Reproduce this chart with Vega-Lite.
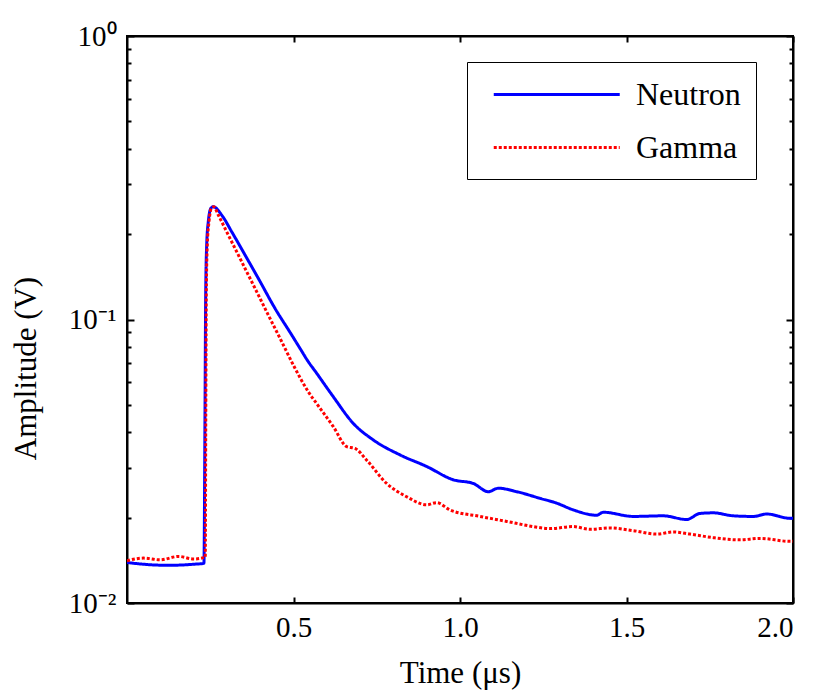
{
  "$schema": "https://vega.github.io/schema/vega-lite/v6.json",
  "width": 666,
  "height": 567,
  "autosize": {"type": "none"},
  "padding": {"left": 127, "top": 36, "right": 23, "bottom": 96},
  "background": "white",
  "config": {
    "view": {"stroke": "black", "strokeWidth": 2},
    "font": "Liberation Serif",
    "axis": {"grid": false, "domainColor": "black", "domainWidth": 2, "tickColor": "black", "tickWidth": 2, "labelColor": "black", "titleColor": "black", "labelFont": "Liberation Serif", "titleFont": "Liberation Serif", "labelFontSize": 29, "titleFontSize": 31, "titleFontWeight": "normal"},
    "legend": {"labelFont": "Liberation Serif"}
  },
  "data": {"values": [
    {"t": 0, "v": 0.0139, "s": "Neutron"},
    {"t": 0.05, "v": 0.0137, "s": "Neutron"},
    {"t": 0.1, "v": 0.0136, "s": "Neutron"},
    {"t": 0.15, "v": 0.0136, "s": "Neutron"},
    {"t": 0.2, "v": 0.0137, "s": "Neutron"},
    {"t": 0.231, "v": 0.0138, "s": "Neutron"},
    {"t": 0.2342, "v": 0.046, "s": "Neutron"},
    {"t": 0.2363, "v": 0.1221, "s": "Neutron"},
    {"t": 0.2393, "v": 0.1832, "s": "Neutron"},
    {"t": 0.2441, "v": 0.2213, "s": "Neutron"},
    {"t": 0.2523, "v": 0.2473, "s": "Neutron"},
    {"t": 0.2592, "v": 0.25, "s": "Neutron"},
    {"t": 0.2844, "v": 0.2336, "s": "Neutron"},
    {"t": 0.3144, "v": 0.204, "s": "Neutron"},
    {"t": 0.3544, "v": 0.1689, "s": "Neutron"},
    {"t": 0.3943, "v": 0.1397, "s": "Neutron"},
    {"t": 0.4444, "v": 0.1095, "s": "Neutron"},
    {"t": 0.4946, "v": 0.0882, "s": "Neutron"},
    {"t": 0.5195, "v": 0.0791, "s": "Neutron"},
    {"t": 0.5444, "v": 0.071, "s": "Neutron"},
    {"t": 0.5697, "v": 0.0646, "s": "Neutron"},
    {"t": 0.5946, "v": 0.0587, "s": "Neutron"},
    {"t": 0.6195, "v": 0.0534, "s": "Neutron"},
    {"t": 0.6796, "v": 0.043, "s": "Neutron"},
    {"t": 0.7396, "v": 0.0376, "s": "Neutron"},
    {"t": 0.8198, "v": 0.0333, "s": "Neutron"},
    {"t": 0.9, "v": 0.0303, "s": "Neutron"},
    {"t": 0.9799, "v": 0.0272, "s": "Neutron"},
    {"t": 1.0399, "v": 0.0264, "s": "Neutron"},
    {"t": 1.085, "v": 0.0247, "s": "Neutron"},
    {"t": 1.115, "v": 0.0254, "s": "Neutron"},
    {"t": 1.1703, "v": 0.0247, "s": "Neutron"},
    {"t": 1.2402, "v": 0.0234, "s": "Neutron"},
    {"t": 1.2904, "v": 0.0225, "s": "Neutron"},
    {"t": 1.3402, "v": 0.0213, "s": "Neutron"},
    {"t": 1.4105, "v": 0.0204, "s": "Neutron"},
    {"t": 1.4303, "v": 0.0209, "s": "Neutron"},
    {"t": 1.5204, "v": 0.0202, "s": "Neutron"},
    {"t": 1.6105, "v": 0.0203, "s": "Neutron"},
    {"t": 1.6808, "v": 0.0197, "s": "Neutron"},
    {"t": 1.7207, "v": 0.0207, "s": "Neutron"},
    {"t": 1.7607, "v": 0.0208, "s": "Neutron"},
    {"t": 1.8207, "v": 0.0203, "s": "Neutron"},
    {"t": 1.8808, "v": 0.0202, "s": "Neutron"},
    {"t": 1.921, "v": 0.0206, "s": "Neutron"},
    {"t": 1.991, "v": 0.0199, "s": "Neutron"},
    {"t": 2.0, "v": 0.0199, "s": "Neutron"},
    {"t": 0, "v": 0.0141, "s": "Gamma"},
    {"t": 0.05, "v": 0.0144, "s": "Gamma"},
    {"t": 0.1, "v": 0.0142, "s": "Gamma"},
    {"t": 0.155, "v": 0.0146, "s": "Gamma"},
    {"t": 0.2, "v": 0.0143, "s": "Gamma"},
    {"t": 0.235, "v": 0.0145, "s": "Gamma"},
    {"t": 0.2366, "v": 0.046, "s": "Gamma"},
    {"t": 0.2381, "v": 0.1221, "s": "Gamma"},
    {"t": 0.2411, "v": 0.1832, "s": "Gamma"},
    {"t": 0.2462, "v": 0.2213, "s": "Gamma"},
    {"t": 0.2538, "v": 0.2473, "s": "Gamma"},
    {"t": 0.2607, "v": 0.25, "s": "Gamma"},
    {"t": 0.2742, "v": 0.2336, "s": "Gamma"},
    {"t": 0.3042, "v": 0.1986, "s": "Gamma"},
    {"t": 0.3444, "v": 0.1599, "s": "Gamma"},
    {"t": 0.3844, "v": 0.1288, "s": "Gamma"},
    {"t": 0.4243, "v": 0.1037, "s": "Gamma"},
    {"t": 0.4646, "v": 0.0835, "s": "Gamma"},
    {"t": 0.5045, "v": 0.0673, "s": "Gamma"},
    {"t": 0.5444, "v": 0.0556, "s": "Gamma"},
    {"t": 0.5745, "v": 0.0496, "s": "Gamma"},
    {"t": 0.6195, "v": 0.0419, "s": "Gamma"},
    {"t": 0.6598, "v": 0.0356, "s": "Gamma"},
    {"t": 0.6847, "v": 0.0351, "s": "Gamma"},
    {"t": 0.7198, "v": 0.0319, "s": "Gamma"},
    {"t": 0.7799, "v": 0.0264, "s": "Gamma"},
    {"t": 0.8399, "v": 0.0237, "s": "Gamma"},
    {"t": 0.9, "v": 0.0222, "s": "Gamma"},
    {"t": 0.93, "v": 0.0226, "s": "Gamma"},
    {"t": 0.97, "v": 0.0213, "s": "Gamma"},
    {"t": 1.0601, "v": 0.0202, "s": "Gamma"},
    {"t": 1.1402, "v": 0.0194, "s": "Gamma"},
    {"t": 1.2201, "v": 0.0186, "s": "Gamma"},
    {"t": 1.2703, "v": 0.0183, "s": "Gamma"},
    {"t": 1.3402, "v": 0.0186, "s": "Gamma"},
    {"t": 1.3904, "v": 0.0182, "s": "Gamma"},
    {"t": 1.4505, "v": 0.0184, "s": "Gamma"},
    {"t": 1.5204, "v": 0.018, "s": "Gamma"},
    {"t": 1.5907, "v": 0.0175, "s": "Gamma"},
    {"t": 1.6405, "v": 0.0178, "s": "Gamma"},
    {"t": 1.6907, "v": 0.0175, "s": "Gamma"},
    {"t": 1.7607, "v": 0.017, "s": "Gamma"},
    {"t": 1.8408, "v": 0.0167, "s": "Gamma"},
    {"t": 1.9009, "v": 0.0169, "s": "Gamma"},
    {"t": 1.991, "v": 0.0165, "s": "Gamma"},
    {"t": 2.0, "v": 0.0165, "s": "Gamma"}
  ]},
  "layer": [
    {
      "mark": {"type": "line", "strokeWidth": 3, "clip": true, "interpolate": "monotone"},
      "encoding": {
        "x": {"field": "t", "type": "quantitative", "scale": {"domain": [0, 2], "nice": false, "zero": false},
              "axis": {"orient": "bottom", "title": "Time (μs)", "values": [0.5, 1, 1.5, 2], "format": ".1f", "tickSize": -6, "labelPadding": 16, "titlePadding": 16}},
        "y": {"field": "v", "type": "quantitative", "scale": {"type": "log", "domain": [0.01, 1], "nice": false},
              "axis": {"orient": "left", "title": "Amplitude (V)", "titlePadding": 26, "titleY": 332,
                       "values": [0.01, 0.02, 0.03, 0.04, 0.05, 0.06, 0.07, 0.08, 0.09, 0.1, 0.2, 0.3, 0.4, 0.5, 0.6, 0.7, 0.8, 0.9, 1],
                       "labelExpr": "datum.value == 1 ? '10⁰' : (abs(datum.value - 0.1) < 1e-9 ? '10⁻¹' : (abs(datum.value - 0.01) < 1e-9 ? '10⁻²' : ''))",
                       "tickSize": {"condition": {"test": "datum.value == 1 || abs(datum.value - 0.1) < 1e-9 || abs(datum.value - 0.01) < 1e-9", "value": -7}, "value": -4},
                       "labelPadding": 18}},
        "color": {"field": "s", "type": "nominal", "scale": {"domain": ["Neutron", "Gamma"], "range": ["#0000ff", "#ff0000"]},
                  "legend": {"orient": "none", "legendX": 340, "legendY": 26, "title": null, "strokeColor": "black", "fillColor": "white", "padding": 15,
                             "symbolType": "M-0.365,0H7.635", "symbolSize": 992, "symbolStrokeWidth": 3, "labelFontSize": 32, "labelColor": "black", "labelOffset": 119, "rowPadding": 19,
                             "labelExpr": "datum.label + '\u00a0\u00a0\u00a0'"}},
        "strokeDash": {"field": "s", "type": "nominal", "scale": {"domain": ["Neutron", "Gamma"], "range": [[1, 0], [3, 2]]},
                       "legend": {"orient": "none", "legendX": 340, "legendY": 26, "title": null, "strokeColor": "black", "fillColor": "white", "padding": 15,
                                  "symbolType": "M-0.365,0H7.635", "symbolSize": 992, "symbolStrokeWidth": 3, "labelFontSize": 32, "labelColor": "black", "labelOffset": 119, "rowPadding": 19,
                                  "labelExpr": "datum.label + '\u00a0\u00a0\u00a0'"}}
      }
    },
    {
      "mark": {"type": "line", "opacity": 0},
      "encoding": {
        "x": {"field": "t", "type": "quantitative", "axis": {"orient": "top", "title": null, "labels": false, "values": [0.5, 1, 1.5, 2], "tickSize": -6}},
        "y": {"field": "v", "type": "quantitative",
              "axis": {"orient": "right", "title": null, "labels": false,
                       "values": [0.01, 0.02, 0.03, 0.04, 0.05, 0.06, 0.07, 0.08, 0.09, 0.1, 0.2, 0.3, 0.4, 0.5, 0.6, 0.7, 0.8, 0.9, 1],
                       "tickSize": {"condition": {"test": "datum.value == 1 || abs(datum.value - 0.1) < 1e-9 || abs(datum.value - 0.01) < 1e-9", "value": -7}, "value": -4}}}
      }
    }
  ],
  "resolve": {"axis": {"x": "independent", "y": "independent"}}
}
